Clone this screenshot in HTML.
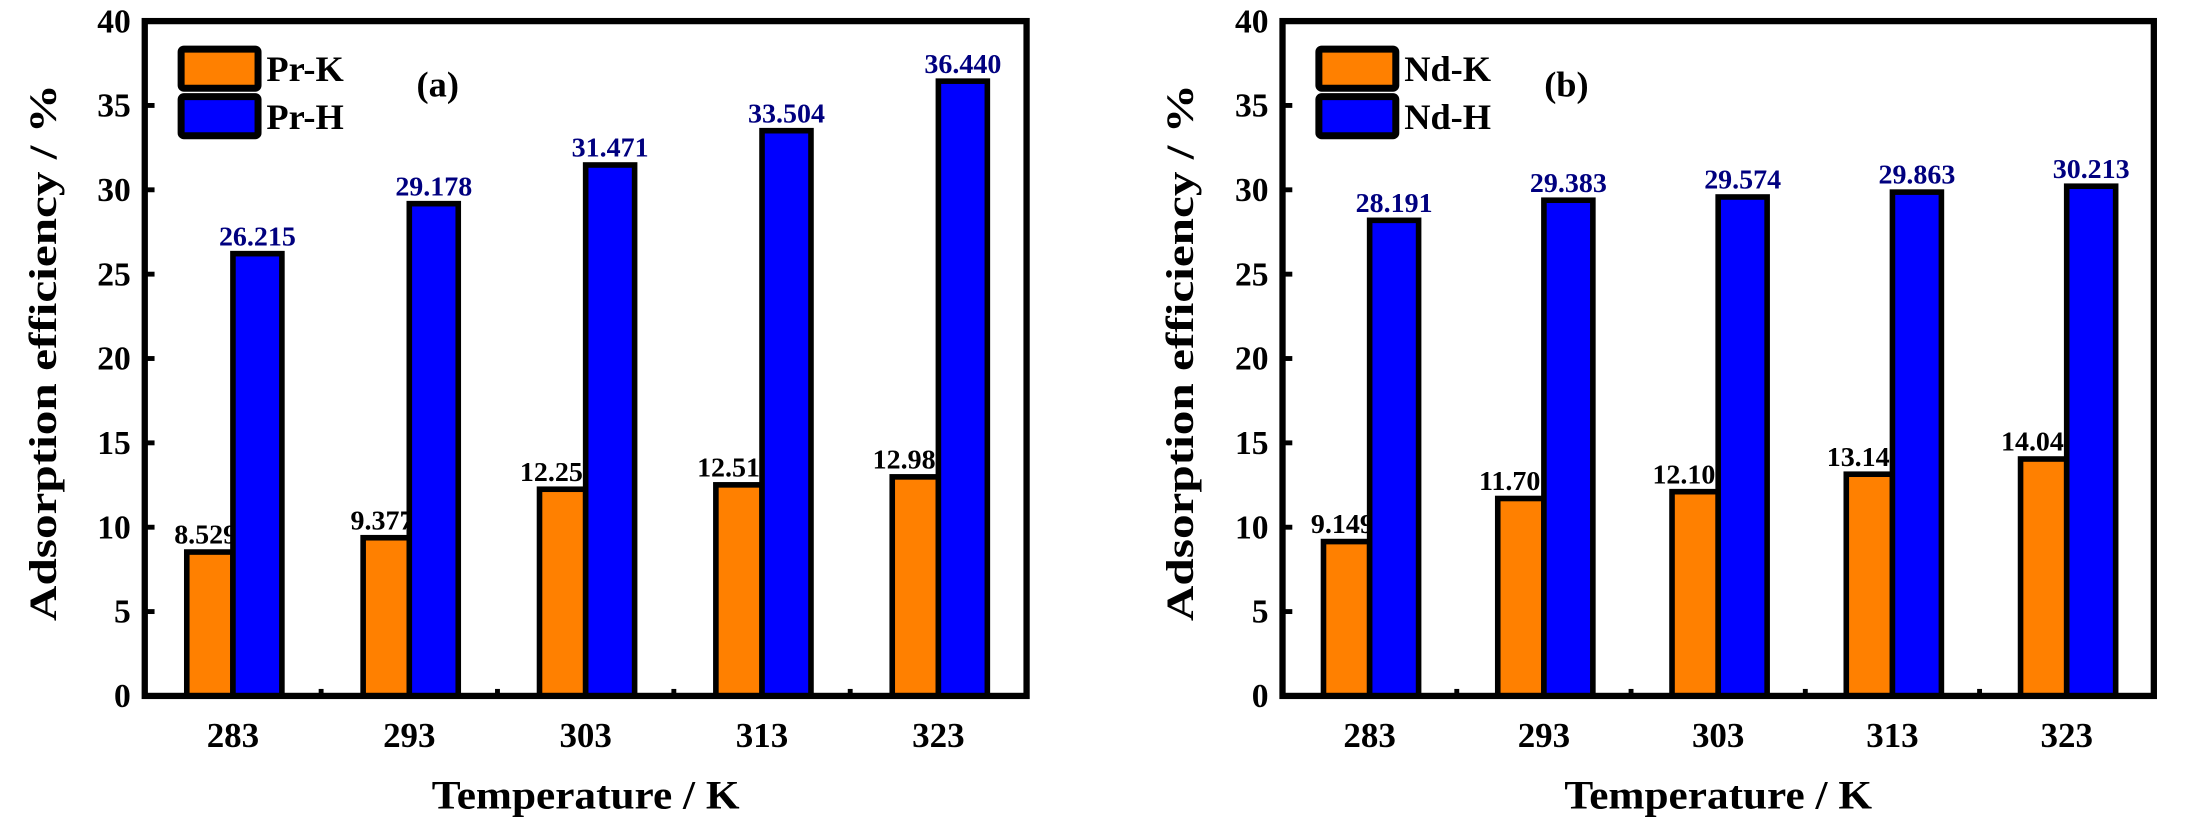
<!DOCTYPE html>
<html><head><meta charset="utf-8"><style>
html,body{margin:0;padding:0;background:#fff;}
svg{display:block;}
text{font-family:"Liberation Serif",serif;font-weight:bold;}
</style></head><body>
<svg id="chart" width="2193" height="838" viewBox="0 0 1568 599" xmlns="http://www.w3.org/2000/svg"></svg>
<script>
const categories = ["283","293","303","313","323"];
const prK = [8.529, 9.377, 12.251, 12.511, 12.984];
const prH = [26.215, 29.178, 31.471, 33.504, 36.440];
const ndK = [9.149, 11.702, 12.106, 13.142, 14.043];
const ndH = [28.191, 29.383, 29.574, 29.863, 30.213];
const prKLabels = ["8.529","9.377","12.251","12.511","12.984"];
const prHLabels = ["26.215","29.178","31.471","33.504","36.440"];
const ndKLabels = ["9.149","11.702","12.106","13.142","14.043"];
const ndHLabels = ["28.191","29.383","29.574","29.863","30.213"];
const yTicks = [0,5,10,15,20,25,30,35,40];

const NS = "http://www.w3.org/2000/svg";
const svg = document.getElementById('chart');
function mk(tag, attrs, parent){
  const e = document.createElementNS(NS, tag);
  for (const k in attrs) e.setAttribute(k, attrs[k]);
  (parent||svg).appendChild(e);
  return e;
}
function panel(opts){
  const L=opts.left, R=opts.right, T=15, B=497.5;
  const g = mk('g', {});
  
  
  const yS = v => B - (v/40)*(B-T);
  const slot = (R-L)/categories.length;
  const xC = i => L + slot*(i+0.5);
  const bw = 33;
  yTicks.forEach(v=>{
    const y=yS(v);
    const t=mk('line',{x1:L,x2:L+7,y1:y,y2:y,stroke:'#000','stroke-width':3.5},g);
    
    
    const tx=mk('text',{x:L-10,y:y+8,'text-anchor':'end','font-size':24},g);
    tx.textContent=v;
    
    
  });
  for(let i=1;i<categories.length;i++){
    const x=L+slot*i;
    const t=mk('line',{x1:x,x2:x,y1:B,y2:B-5,stroke:'#000','stroke-width':3.5},g);
    
    
  }
  categories.forEach((c,i)=>{
    const cx=xC(i);
    const kb=mk('rect',{x:cx-bw,y:yS(opts.k[i]),width:bw,height:B-yS(opts.k[i]),fill:'#FF8000',stroke:'#000','stroke-width':4},g);
    
    
    const kl=mk('text',{x:cx-bw/2-3,y:yS(opts.k[i])-6,'text-anchor':'middle','font-size':20,fill:'#000'},g);
    kl.textContent=opts.kl[i];
    
    
    const hb=mk('rect',{x:cx,y:yS(opts.h[i]),width:bw+2,height:B-yS(opts.h[i]),fill:'#0000FF',stroke:'#000','stroke-width':4},g);
    
    
    const hl=mk('text',{x:cx+bw/2+1,y:yS(opts.h[i])-6,'text-anchor':'middle','font-size':20,fill:'#00007F'},g);
    hl.textContent=opts.hl[i];
    
    
    const xl=mk('text',{x:cx,y:534,'text-anchor':'middle','font-size':25},g);
    xl.textContent=c;
    
    
  });
  const fr=mk('rect',{x:L,y:T,width:R-L,height:B-T,fill:'none',stroke:'#000','stroke-width':4.5},g);
  
  
  const lx=L+26;
  [[opts.kName,'#FF8000',35],[opts.hName,'#0000FF',69]].forEach(([n,col,y])=>{
    const r=mk('rect',{x:lx,y:y,width:55,height:28,rx:2,fill:col,stroke:'#000','stroke-width':5},g);
    
    
    const t=mk('text',{x:lx+61,y:y+23,'font-size':26},g);
    t.textContent=n;
    
    
  });
  const pl=mk('text',{x:opts.plx,y:69,'text-anchor':'middle','font-size':26},g);
  pl.textContent=opts.panelLabel;
  
  
  const xt=mk('text',{x:(L+R)/2,y:578,'text-anchor':'middle','font-size':29,textLength:220,lengthAdjust:'spacingAndGlyphs'},g);
  xt.textContent='Temperature / K';
  
  
  const yx=opts.ytx, yy=252;
  const yt=mk('text',{x:yx,y:yy,'text-anchor':'middle','font-size':28,textLength:384,lengthAdjust:'spacingAndGlyphs',transform:'rotate(-90 '+yx+' '+yy+')'},g);
  yt.textContent='Adsorption efficiency / %';
  
  
}
panel({name:'panel-a',left:103.5,right:734,k:prK,h:prH,kl:prKLabels,hl:prHLabels,kName:'Pr-K',hName:'Pr-H',panelLabel:'(a)',plx:313,ytx:40});
panel({name:'panel-b',left:917,right:1540,k:ndK,h:ndH,kl:ndKLabels,hl:ndHLabels,kName:'Nd-K',hName:'Nd-H',panelLabel:'(b)',plx:1120,ytx:853});
</script>
</body></html>
